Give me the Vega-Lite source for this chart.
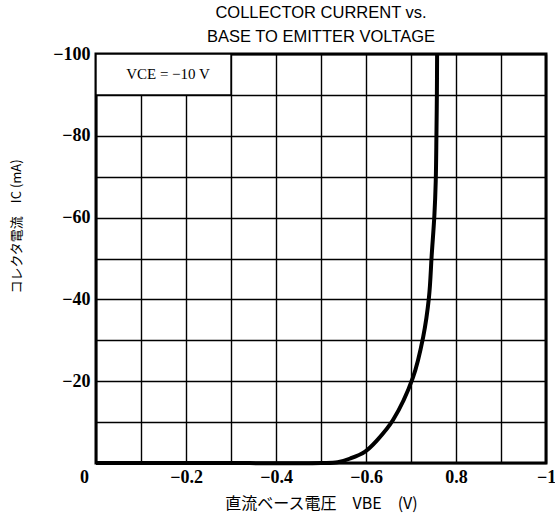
{
  "$schema": "https://vega.github.io/schema/vega-lite/v6.json",
  "width": 450,
  "height": 409,
  "autosize": {"type": "none"},
  "padding": {"left": 96, "top": 54, "right": 9, "bottom": 58},
  "background": "white",
  "title": {
    "text": ["COLLECTOR CURRENT vs.", "BASE TO EMITTER VOLTAGE"],
    "font": "Liberation Sans",
    "fontSize": 16.5,
    "fontWeight": "normal",
    "lineHeight": 24,
    "offset": 0,
    "anchor": "middle",
    "color": "black"
  },
  "config": {
    "view": {"stroke": "black", "strokeWidth": 3},
    "axis": {
      "grid": true,
      "gridColor": "black",
      "gridOpacity": 1,
      "gridWidth": 1.4,
      "domain": false,
      "ticks": false,
      "labelColor": "black",
      "labelFont": "Liberation Serif",
      "labelFontSize": 18,
      "labelFontWeight": "bold",
      "titleColor": "black",
      "titleFont": "Noto Sans CJK JP",
      "titleFontWeight": "normal"
    }
  },
  "datasets": {
    "curve": [
      {"v": 0, "i": 0},
      {"v": -0.25, "i": 0},
      {"v": -0.5, "i": 0},
      {"v": -0.537, "i": -0.2},
      {"v": -0.565, "i": -1.1},
      {"v": -0.598, "i": -2.8},
      {"v": -0.625, "i": -5.6},
      {"v": -0.66, "i": -10.5},
      {"v": -0.704, "i": -20.8},
      {"v": -0.727, "i": -30.8},
      {"v": -0.74, "i": -40.6},
      {"v": -0.746, "i": -50.8},
      {"v": -0.752, "i": -60.6},
      {"v": -0.755, "i": -69},
      {"v": -0.7565, "i": -80},
      {"v": -0.7575, "i": -90},
      {"v": -0.758, "i": -100}
    ],
    "note": [
      {"x1": 0, "x2": -0.3, "y1": -90, "y2": -100, "x": -0.16, "y": -95, "label": "VCE = −10 V"}
    ]
  },
  "layer": [
    {
      "data": {"name": "note"},
      "mark": {"type": "rect", "fill": "white", "stroke": "black", "strokeWidth": 1.4},
      "encoding": {
        "x": {
          "field": "x1",
          "type": "quantitative",
          "scale": {"domain": [0, -1], "nice": false, "zero": false},
          "axis": {
            "values": [0, -0.1, -0.2, -0.3, -0.4, -0.5, -0.6, -0.7, -0.8, -0.9, -1],
            "labelExpr": "datum.value == 0 ? '0' : (abs(round(datum.value * 10)) % 2 == 1 ? '' : (round(datum.value * 10) == -8 ? '0.8' : '−' + format(abs(datum.value), '~g')))",
            "labelPadding": 5,
            "labelFlush": false,
            "labelOverlap": false,
            "labelOffset": {"condition": {"test": "datum.value == 0", "value": -12}, "value": 0},
            "title": "直流ベース電圧　VBE　(V)",
            "titleFontSize": 16,
            "titlePadding": 9
          }
        },
        "x2": {"field": "x2"},
        "y": {
          "field": "y1",
          "type": "quantitative",
          "scale": {"domain": [0, -100], "nice": false, "zero": false},
          "axis": {
            "values": [0, -10, -20, -30, -40, -50, -60, -70, -80, -90, -100],
            "labelExpr": "datum.value == 0 || round(datum.value) % 20 != 0 ? '' : '−' + abs(round(datum.value))",
            "labelPadding": 6,
            "labelFlush": false,
            "labelOverlap": false,
            "title": "コレクタ電流　IC (mA)",
            "titleFontSize": 13,
            "titleX": -73,
            "titleY": 172,
            "titleAngle": -90
          }
        },
        "y2": {"field": "y2"}
      }
    },
    {
      "data": {"name": "note"},
      "mark": {"type": "text", "font": "Liberation Serif", "fontSize": 15, "color": "black"},
      "encoding": {
        "x": {"field": "x", "type": "quantitative"},
        "y": {"field": "y", "type": "quantitative"},
        "text": {"field": "label"}
      }
    },
    {
      "data": {"name": "curve"},
      "mark": {"type": "line", "color": "black", "strokeWidth": 4, "interpolate": "catmull-rom"},
      "encoding": {
        "x": {"field": "v", "type": "quantitative"},
        "y": {"field": "i", "type": "quantitative"}
      }
    }
  ]
}
